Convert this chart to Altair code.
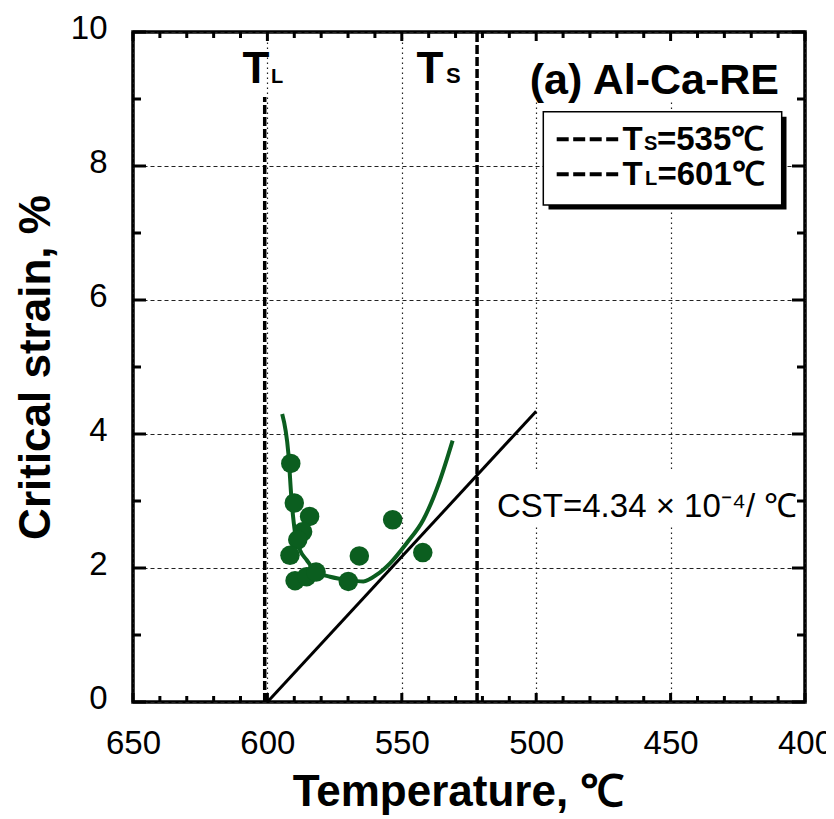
import altair as alt
import pandas as pd

# ---------------- data ----------------
pt_temp = [591.3, 590.0, 584.3, 586.9, 588.7, 591.6, 589.7, 585.4, 581.9, 569.9, 565.8, 553.4, 542.2]
pt_strain = [3.56, 2.97, 2.77, 2.54, 2.42, 2.19, 1.81, 1.87, 1.94, 1.80, 2.18, 2.72, 2.23]

fit_temp = [594.5, 592.2, 591.0, 589.7, 587.9, 585.4, 581.8, 576.7, 569.9, 564.3, 559.3, 554.4, 548.2, 542.0, 535.8, 531.1]
fit_strain = [4.30, 3.71, 3.01, 2.52, 2.27, 2.12, 1.94, 1.87, 1.82, 1.80, 1.90, 2.07, 2.37, 2.72, 3.31, 3.90]

cst_temp = [600, 500]
cst_strain = [0.0, 4.34]

ref_temp = [601, 522]      # T_L and T_S dashed lines
ref_bottom = [0, 0]
ref_top = [9.03, 10]

x_labels = [650, 600, 550, 500, 450, 400]
x_minor = [640, 630, 620, 610, 590, 580, 570, 560, 540, 530, 520, 510,
           490, 480, 470, 460, 440, 430, 420, 410]
y_labels = [0, 2, 4, 6, 8, 10]
y_minor = [1, 3, 5, 7, 9]

title_text = "(a) Al-Ca-RE"
x_title = "Temperature, ℃"
y_title = "Critical strain, %"
cst_text = "CST=4.34 × 10⁻⁴/ ℃"
legend_ts = "=535℃"
legend_tl = "=601℃"

GREEN = "#0b5e1f"
FONT = "Liberation Sans"
W, H = 672, 670

xs = alt.Scale(domain=[400, 650], reverse=True, nice=False, zero=False)
ys = alt.Scale(domain=[0, 10], nice=False, zero=False)

xaxis = alt.Axis(values=x_labels, title=x_title, labelFontSize=33, labelFont=FONT,
                 labelPadding=51, labelBaseline="alphabetic", labelFlush=False,
                 labelColor="black", ticks=False, tickSize=0, domain=False,
                 grid=True, gridDash=[1.5, 3.5], gridColor="#222222", gridWidth=1.2,
                 titleFontSize=44, titleFont=FONT, titleFontWeight="bold",
                 titleColor="black", titleY=103, titleX=325, titleBaseline="alphabetic")
yaxis = alt.Axis(values=y_labels, title=y_title, labelFontSize=33, labelFont=FONT,
                 labelPadding=26, labelOffset=-4, labelFlush=False, labelColor="black",
                 ticks=False, tickSize=0, domain=False,
                 grid=True, gridDash=[4, 3], gridColor="#222222", gridWidth=1.2,
                 titleFontSize=44, titleFont=FONT, titleFontWeight="bold",
                 titleColor="black", titleX=-84, titleY=335, titleAngle=270,
                 titleBaseline="alphabetic")


def X(f):
    return alt.X(f"{f}:Q", scale=xs, axis=xaxis)


def Y(f):
    return alt.Y(f"{f}:Q", scale=ys, axis=yaxis)


pts = pd.DataFrame({"t": pt_temp, "y": pt_strain})
fit = pd.DataFrame({"t": fit_temp, "y": fit_strain})
cst = pd.DataFrame({"t": cst_temp, "y": cst_strain})
refs = pd.DataFrame({"t": ref_temp, "y": ref_bottom, "y2": ref_top})
xmaj = pd.DataFrame({"t": x_labels})
xmin = pd.DataFrame({"t": x_minor})
ymaj = pd.DataFrame({"y": y_labels})
ymin = pd.DataFrame({"y": y_minor})
dummy = pd.DataFrame({"d": [0]})

base_pts = alt.Chart(pts).mark_circle(size=380, color=GREEN, opacity=1).encode(x=X("t"), y=Y("y"))

cst_bg = alt.Chart(dummy).mark_rect(color="white").encode(
    x=alt.value(357), x2=alt.value(667), y=alt.value(438), y2=alt.value(495))
title_bg = alt.Chart(dummy).mark_rect(color="white").encode(
    x=alt.value(387), x2=alt.value(670), y=alt.value(2), y2=alt.value(70))

ref_lines = alt.Chart(refs).mark_rule(color="black", strokeWidth=3.5, strokeDash=[9, 3]).encode(
    x=X("t"), y=Y("y"), y2="y2:Q")

cst_line = alt.Chart(cst).mark_line(color="black", strokeWidth=3).encode(x=X("t"), y=Y("y"))

fit_line = alt.Chart(fit).mark_line(color=GREEN, strokeWidth=4, interpolate="monotone").encode(
    x=X("t"), y=Y("y"))

# legend box
leg_shadow = alt.Chart(dummy).mark_rect(color="black").encode(
    x=alt.value(415.5), x2=alt.value(653.5), y=alt.value(84.7), y2=alt.value(177.5))
leg_box = alt.Chart(dummy).mark_rect(fill="white", stroke="black", strokeWidth=1.5).encode(
    x=alt.value(410.3), x2=alt.value(648.7), y=alt.value(79.7), y2=alt.value(173))
leg_dash1 = alt.Chart(dummy).mark_rule(color="black", strokeWidth=4, strokeDash=[12, 4.5]).encode(
    x=alt.value(423.7), x2=alt.value(485.3), y=alt.value(107.3))
leg_dash2 = alt.Chart(dummy).mark_rule(color="black", strokeWidth=4, strokeDash=[12, 4.5]).encode(
    x=alt.value(423.7), x2=alt.value(485.3), y=alt.value(142.3))


def txt(s, x, y, size, bold=True, align="left"):
    return alt.Chart(dummy).mark_text(text=s, font=FONT, fontSize=size,
                                      fontWeight="bold" if bold else "normal",
                                      align=align, baseline="alphabetic", color="black").encode(
        x=alt.value(x), y=alt.value(y))


texts = [
    txt("T", 489.5, 118, 33), txt("S", 511, 118, 20), txt(legend_ts, 524, 118, 33),
    txt("T", 489.5, 153, 33), txt("L", 512, 153, 20), txt(legend_tl, 524.5, 153, 33),
    txt(title_text, 646, 62, 43, align="right"),
    txt("T", 109.5, 51, 44), txt("L", 138, 51, 20),
    txt("T", 283.5, 51, 44), txt("S", 313, 51, 22),
    txt(cst_text, 364, 485, 33, bold=False),
]

tick = dict(color="black", strokeWidth=3)
ticks = [
    alt.Chart(xmaj).mark_rule(**tick).encode(x=X("t"), y=alt.value(H), y2=alt.value(H - 9)),
    alt.Chart(xmin).mark_rule(**tick).encode(x=X("t"), y=alt.value(H), y2=alt.value(H - 6)),
    alt.Chart(xmaj).mark_rule(**tick).encode(x=X("t"), y=alt.value(0), y2=alt.value(9)),
    alt.Chart(xmin).mark_rule(**tick).encode(x=X("t"), y=alt.value(0), y2=alt.value(6)),
    alt.Chart(ymaj).mark_rule(**tick).encode(y=Y("y"), x=alt.value(0), x2=alt.value(13)),
    alt.Chart(ymin).mark_rule(**tick).encode(y=Y("y"), x=alt.value(0), x2=alt.value(8)),
    alt.Chart(ymaj).mark_rule(**tick).encode(y=Y("y"), x=alt.value(W), x2=alt.value(W - 13)),
    alt.Chart(ymin).mark_rule(**tick).encode(y=Y("y"), x=alt.value(W), x2=alt.value(W - 8)),
]

chart = alt.layer(
    cst_bg, title_bg, ref_lines, cst_line, fit_line, base_pts,
    leg_shadow, leg_box, leg_dash1, leg_dash2, *texts, *ticks
).properties(
    width=W, height=H,
    autosize=alt.AutoSizeParams(type="none"),
    padding={"left": 125, "top": 24, "right": 21, "bottom": 114},
    background="white",
).configure_view(stroke="black", strokeWidth=3.5)

chart.save("out.html", embed_options={"renderer": "svg", "actions": False})
